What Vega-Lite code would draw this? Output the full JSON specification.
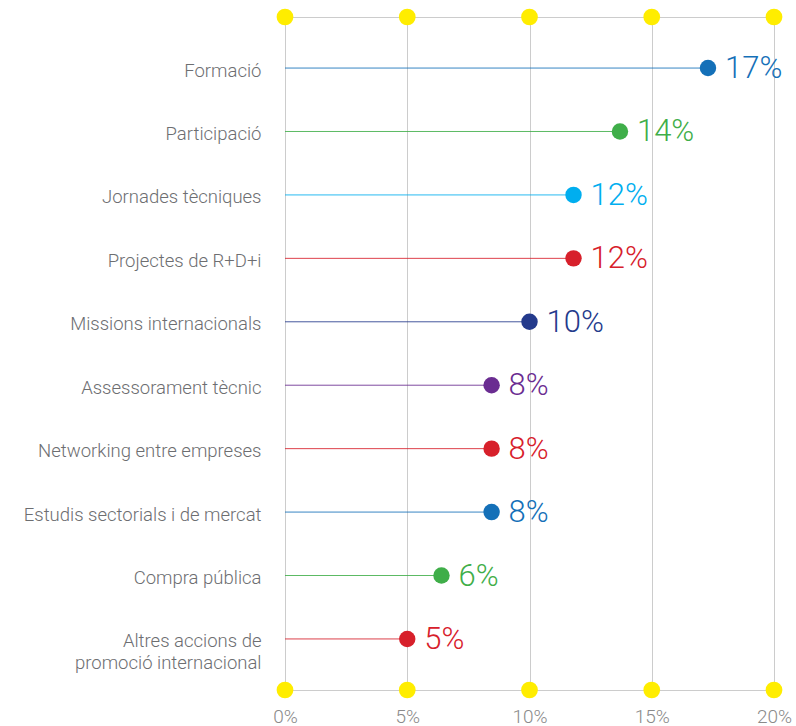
{
  "$schema": "https://vega.github.io/schema/vega-lite/v6.json",
  "width": 489,
  "height": 673,
  "autosize": {"type": "none"},
  "padding": {"left": 285, "top": 17, "right": 22, "bottom": 36},
  "background": "white",
  "config": {
    "view": {"stroke": "#cccccc", "strokeWidth": 1},
    "font": "Roboto"
  },
  "datasets": {
    "main": [
      {"cat": "Formació", "value": 0.173},
      {"cat": "Participació", "value": 0.137},
      {"cat": "Jornades tècniques", "value": 0.118},
      {"cat": "Projectes de R+D+i", "value": 0.118},
      {"cat": "Missions internacionals", "value": 0.100},
      {"cat": "Assessorament tècnic", "value": 0.0845},
      {"cat": "Networking entre empreses", "value": 0.0845},
      {"cat": "Estudis sectorials i de mercat", "value": 0.0845},
      {"cat": "Compra pública", "value": 0.064},
      {"cat": "Altres accions de|promoció internacional", "value": 0.050}
    ],
    "ticks": [{"t": 0}, {"t": 0.05}, {"t": 0.1}, {"t": 0.15}, {"t": 0.2}]
  },
  "layer": [
    {
      "data": {"name": "main"},
      "mark": {"type": "rule", "strokeWidth": 1, "opacity": 0.85},
      "encoding": {
        "y": {
          "field": "cat", "type": "nominal", "sort": null,
          "scale": {"type": "point", "padding": 0.805},
          "axis": {
            "title": null, "domain": false, "ticks": false, "grid": false,
            "labelExpr": "split(datum.label, '|')",
            "labelFont": "Roboto", "labelFontWeight": 300, "labelFontSize": 18.5,
            "labelColor": "#6d6e71", "labelPadding": 24,
            "labelBaseline": "line-top", "labelOffset": -8, "labelLineHeight": 22,
            "labelLimit": 300
          }
        },
        "x": {
          "field": "value", "type": "quantitative",
          "scale": {"domain": [0, 0.2], "nice": false},
          "axis": {
            "title": null, "format": ".0%", "values": [0, 0.05, 0.1, 0.15, 0.2],
            "domain": false, "ticks": false, "grid": true, "gridColor": "#cccccc",
            "labelFont": "Roboto", "labelFontWeight": 300, "labelFontSize": 19,
            "labelColor": "#8a8a8a", "labelPadding": 17, "labelFlush": false
          }
        },
        "x2": {"datum": 0},
        "color": {
          "field": "cat", "type": "nominal", "legend": null,
          "scale": {
            "domain": ["Formació", "Participació", "Jornades tècniques", "Projectes de R+D+i", "Missions internacionals", "Assessorament tècnic", "Networking entre empreses", "Estudis sectorials i de mercat", "Compra pública", "Altres accions de|promoció internacional"],
            "range": ["#1470b8", "#3fae49", "#00aeef", "#d7202b", "#243a8c", "#6a2c91", "#d7202b", "#1470b8", "#3fae49", "#d7202b"]
          }
        }
      }
    },
    {
      "data": {"name": "main"},
      "mark": {"type": "point", "filled": true, "shape": "circle", "size": 270, "opacity": 1},
      "encoding": {
        "y": {"field": "cat", "type": "nominal", "sort": null},
        "x": {"field": "value", "type": "quantitative"},
        "color": {"field": "cat", "type": "nominal", "legend": null}
      }
    },
    {
      "data": {"name": "main"},
      "mark": {"type": "text", "align": "left", "baseline": "middle", "dx": 17, "dy": 1, "fontSize": 31, "fontWeight": 300, "font": "Roboto"},
      "encoding": {
        "y": {"field": "cat", "type": "nominal", "sort": null},
        "x": {"field": "value", "type": "quantitative"},
        "text": {"field": "value", "type": "quantitative", "format": ".0%"},
        "color": {"field": "cat", "type": "nominal", "legend": null}
      }
    },
    {
      "data": {"name": "ticks"},
      "mark": {"type": "point", "filled": true, "shape": "circle", "size": 280, "color": "#ffed00", "opacity": 1},
      "encoding": {
        "x": {"field": "t", "type": "quantitative"},
        "y": {"value": 0}
      }
    },
    {
      "data": {"name": "ticks"},
      "mark": {"type": "point", "filled": true, "shape": "circle", "size": 280, "color": "#ffed00", "opacity": 1},
      "encoding": {
        "x": {"field": "t", "type": "quantitative"},
        "y": {"value": {"expr": "height"}}
      }
    }
  ]
}
